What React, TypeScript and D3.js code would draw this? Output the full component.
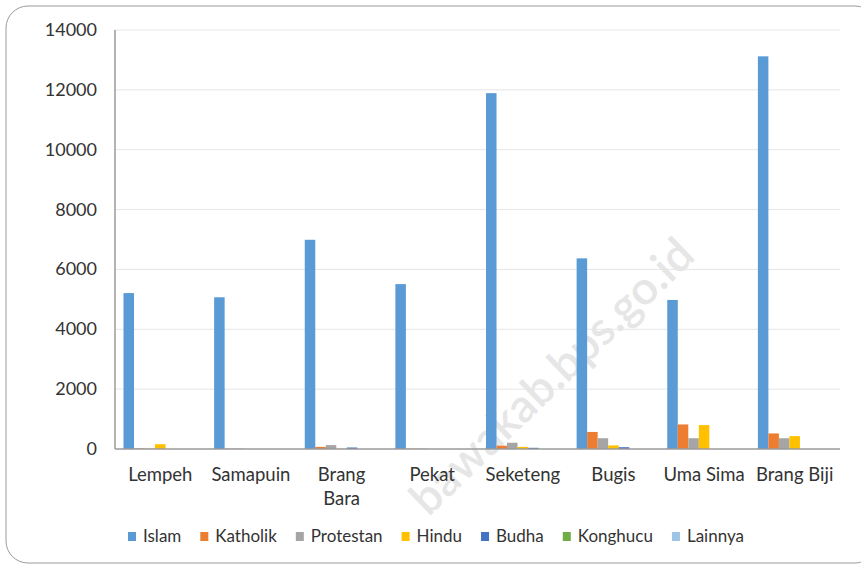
import React, { useEffect, useRef } from 'react';
import * as d3 from 'd3';

// kelurahan / desa
const categories = ['Lempeh', 'Samapuin', 'Brang Bara', 'Pekat', 'Seketeng', 'Bugis', 'Uma Sima', 'Brang Biji'];
const seriesNames = ['Islam', 'Katholik', 'Protestan', 'Hindu', 'Budha', 'Konghucu', 'Lainnya'];
const seriesColors = ['#5B9BD5', '#ED7D31', '#A5A5A5', '#FFC000', '#4472C4', '#70AD47', '#9DC3E6'];

// values per series, one per category
const islam = [5210, 5070, 6990, 5510, 11890, 6370, 4980, 13120];
const katholik = [20, 10, 70, 10, 110, 570, 820, 520];
const protestan = [10, 10, 130, 10, 210, 360, 360, 360];
const hindu = [160, 0, 10, 0, 70, 120, 800, 430];
const budha = [0, 0, 50, 0, 40, 60, 0, 0];
const konghucu = [0, 0, 0, 0, 0, 0, 0, 0];
const lainnya = [0, 0, 0, 0, 0, 0, 0, 0];
const seriesValues = [islam, katholik, protestan, hindu, budha, konghucu, lainnya];

const yTicks = [0, 2000, 4000, 6000, 8000, 10000, 12000, 14000];

const W = 861;
const H = 565;
const FONT = 'Lato, "Open Sans", sans-serif';

export default function App() {
  const ref = useRef<SVGSVGElement>(null);

  useEffect(() => {
    const svg = d3.select(ref.current);
    svg.selectAll('*').remove();

    // frame
    svg.append('rect')
      .attr('x', 6).attr('y', 6)
      .attr('width', W + 10).attr('height', H - 8)
      .attr('rx', 22)
      .attr('fill', '#fff')
      .attr('stroke', '#9a9a9a')
      .attr('stroke-width', 1);

    const x = d3.scaleBand().domain(categories).range([115, 840]).padding(0);
    const xs = d3.scaleBand().domain(seriesNames).range([8.5, x.bandwidth() - 8.5]).padding(0);
    const y = d3.scaleLinear().domain([0, 14000]).range([449, 30]);

    // gridlines
    svg.append('g').selectAll('line').data(yTicks.filter((t) => t > 0)).enter().append('line')
      .attr('x1', 115).attr('x2', 840)
      .attr('y1', (d) => y(d)).attr('y2', (d) => y(d))
      .attr('stroke', '#e6e6e6').attr('stroke-width', 1);

    // y labels
    svg.append('g').selectAll('text').data(yTicks).enter().append('text')
      .attr('x', 97).attr('y', (d) => y(d) + 6)
      .attr('text-anchor', 'end')
      .attr('font-family', FONT).attr('font-size', 18)
      .attr('fill', '#333')
      .text((d) => d);

    // watermark
    svg.append('text')
      .attr('transform', 'translate(697,258) rotate(-44)')
      .attr('text-anchor', 'end')
      .attr('font-family', FONT).attr('font-size', 46).attr('font-weight', 600)
      .attr('fill', '#e6e6e6')
      .text('bawakab.bps.go.id');

    // bars
    const groups = svg.append('g').selectAll('g').data(categories).enter().append('g')
      .attr('transform', (d) => `translate(${x(d)},0)`);
    groups.selectAll('rect')
      .data((_, i) => seriesNames.map((s, k) => ({ s, v: seriesValues[k][i], c: seriesColors[k] })))
      .enter().append('rect')
      .attr('x', (d) => xs(d.s) as number)
      .attr('width', xs.bandwidth())
      .attr('y', (d) => y(d.v))
      .attr('height', (d) => y(0) - y(d.v))
      .attr('fill', (d) => d.c);

    // axes lines
    svg.append('line').attr('x1', 115).attr('x2', 115).attr('y1', 30).attr('y2', 449)
      .attr('stroke', '#9a9a9a').attr('stroke-width', 1.5);
    svg.append('line').attr('x1', 115).attr('x2', 840).attr('y1', 449).attr('y2', 449)
      .attr('stroke', '#9a9a9a').attr('stroke-width', 1.5);

    // x labels
    const xl = svg.append('g').selectAll('text').data(categories).enter().append('text')
      .attr('x', (d) => (x(d) as number) + x.bandwidth() / 2)
      .attr('y', 481)
      .attr('text-anchor', 'middle')
      .attr('font-family', FONT).attr('font-size', 18.5)
      .attr('fill', '#333');
    xl.each(function (d) {
      const t = d3.select(this);
      const parts = d === 'Brang Bara' ? ['Brang', 'Bara'] : [d];
      parts.forEach((p, i) => {
        t.append('tspan').attr('x', (x(d) as number) + x.bandwidth() / 2).attr('dy', i === 0 ? 0 : 24).text(p);
      });
    });

    // legend
    let lx = 128;
    seriesNames.forEach((s, k) => {
      svg.append('rect').attr('x', lx).attr('y', 532).attr('width', 8).attr('height', 9)
        .attr('fill', seriesColors[k]);
      const t = svg.append('text').attr('x', lx + 15).attr('y', 542)
        .attr('font-family', FONT).attr('font-size', 17)
        .attr('fill', '#333').text(s);
      const w = (t.node() as SVGTextElement).getComputedTextLength();
      lx += 15 + w + 19;
    });
  }, []);

  return (
    <svg ref={ref} width={W} height={H} style={{ position: 'absolute', left: 0, top: 0, background: '#fff' }} />
  );
}
